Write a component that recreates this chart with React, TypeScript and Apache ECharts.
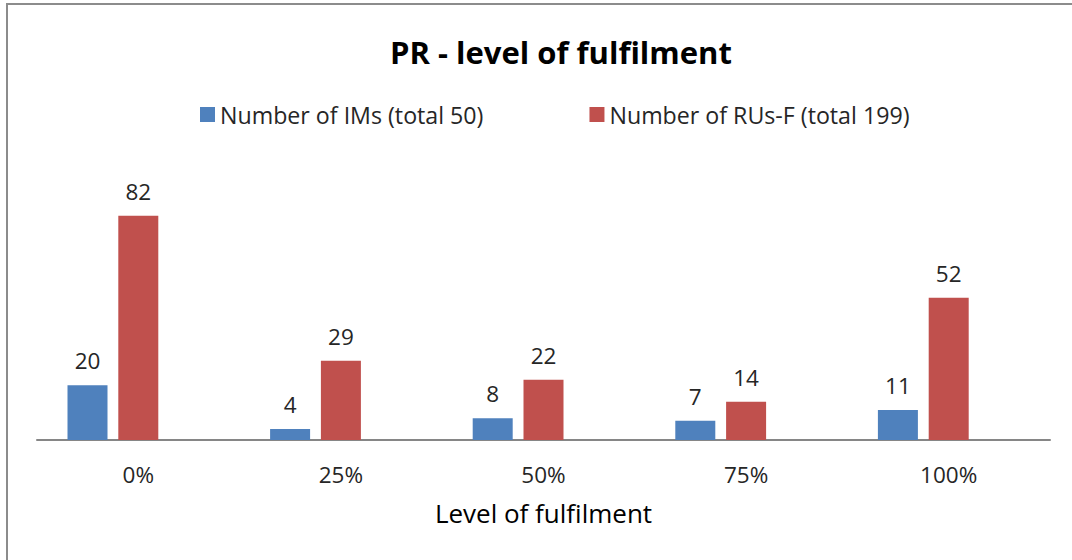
import React, { useEffect, useRef } from "react";
import * as echarts from "echarts";

const categories = ["0%", "25%", "50%", "75%", "100%"];
const imsValues = [20, 4, 8, 7, 11];
const rusValues = [82, 29, 22, 14, 52];
const spacerValues = [0, 0, 0, 0, 0];
const seriesNames = ["Number of IMs (total 50)", "Number of RUs-F (total 199)"];
const titleText = "PR - level of fulfilment";
const axisTitle = "Level of fulfilment";

const FONT = "'Open Sans', 'Noto Sans', sans-serif";

export default function App() {
  const ref = useRef<HTMLDivElement>(null);
  useEffect(() => {
    if (!ref.current) return;
    const chart = echarts.init(ref.current, undefined, { renderer: "svg" });
    const labelStyle = {
      show: true,
      position: "top" as const,
      distance: 13,
      color: "#262626",
      fontSize: 22.5,
      fontFamily: FONT,
    };
    chart.setOption({
      animation: false,
      backgroundColor: "#ffffff",
      textStyle: { fontFamily: FONT },
      title: {
        text: titleText,
        left: 556,
        top: 31,
        textAlign: "center",
        textStyle: { fontSize: 31, fontWeight: "bold", color: "#000000", fontFamily: FONT },
      },
      legend: {
        data: seriesNames,
        left: 195,
        top: 98,
        itemWidth: 15,
        itemHeight: 15,
        itemGap: 106,
        icon: "rect",
        textStyle: { fontSize: 23.2, color: "#262626", fontFamily: FONT },
      },
      grid: { left: 37, right: 22, top: 194, bottom: 120, containLabel: false },
      xAxis: {
        type: "category",
        data: categories,
        axisLine: { lineStyle: { color: "#868686", width: 2 } },
        axisTick: { show: false },
        axisLabel: { color: "#262626", fontSize: 22.5, margin: 23, fontFamily: FONT },
        name: axisTitle,
        nameLocation: "middle",
        nameGap: 60,
        nameTextStyle: { color: "#000000", fontSize: 26, fontFamily: FONT },
      },
      yAxis: {
        type: "value",
        min: 0,
        max: 90,
        show: false,
        splitLine: { show: false },
      },
      graphic: [
        {
          type: "rect",
          shape: { x: 7, y: 4, width: 1200, height: 700 },
          style: { fill: "none", stroke: "#8c8c8c", lineWidth: 2 },
          silent: true,
        },
      ],
      series: [
        {
          name: seriesNames[0],
          type: "bar",
          data: imsValues,
          barWidth: 40,
          barGap: "27%",
          itemStyle: { color: "#4F81BD" },
          label: labelStyle,
        },
        {
          name: seriesNames[1],
          type: "bar",
          data: rusValues,
          barWidth: 40,
          barGap: "27%",
          itemStyle: { color: "#C0504D" },
          label: labelStyle,
        },
        {
          name: "spacer",
          type: "bar",
          data: spacerValues,
          barWidth: 40,
          barGap: "27%",
          itemStyle: { color: "rgba(0,0,0,0)" },
          label: { show: false },
          silent: true,
        },
      ],
    });
    return () => chart.dispose();
  }, []);
  return (
    <div
      ref={ref}
      style={{ position: "fixed", left: 0, top: 0, width: 1072, height: 560 }}
    />
  );
}
